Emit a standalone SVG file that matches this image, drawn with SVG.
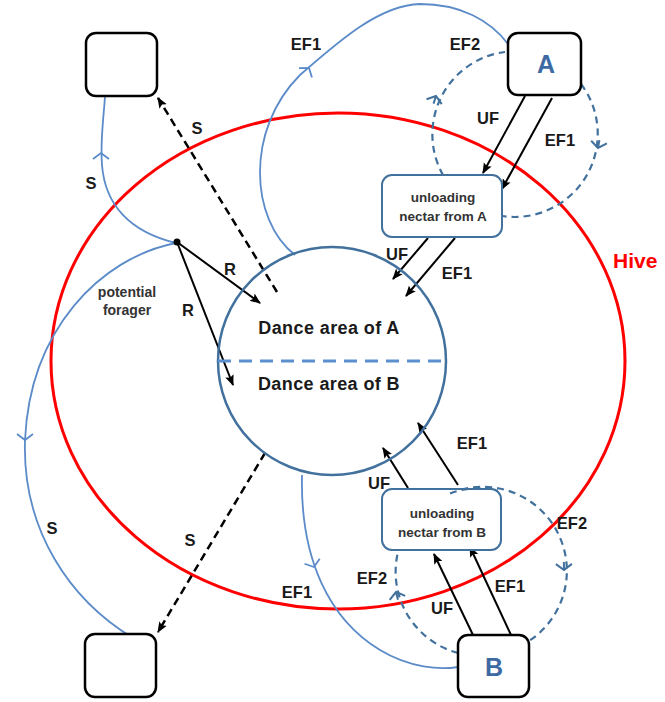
<svg xmlns="http://www.w3.org/2000/svg" width="665" height="702" viewBox="0 0 665 702">
<defs>
<style>
.lbl{font-family:"Liberation Sans",Arial,sans-serif;font-weight:bold;font-size:16.5px;fill:#1a1a1a;text-anchor:middle}
.small{font-family:"Liberation Sans",Arial,sans-serif;font-weight:bold;font-size:13.5px;fill:#333;text-anchor:middle}
.dance{font-family:"Liberation Sans",Arial,sans-serif;font-weight:bold;font-size:18px;letter-spacing:0.4px;fill:#1a1a1a;text-anchor:middle}
.big{font-family:"Liberation Sans",Arial,sans-serif;font-weight:bold;font-size:25px;fill:#3d6aa3;text-anchor:middle}
.blk{fill:#fff;stroke:#000;stroke-width:2.5}
.unl{fill:#fff;stroke:#41719c;stroke-width:2}
.flow{fill:none;stroke:#5b8bc9;stroke-width:1.8}
.dflow{fill:none;stroke:#41719c;stroke-width:2.2;stroke-dasharray:7,5}
.chev{fill:none;stroke:#5b8bc9;stroke-width:1.8}
.dchev{fill:none;stroke:#41719c;stroke-width:2}
.arr{fill:none;stroke:#000;stroke-width:2;marker-end:url(#ah)}
.darr{fill:none;stroke:#000;stroke-width:2.5;stroke-dasharray:8,5;marker-end:url(#ah)}
</style>
<marker id="ah" viewBox="0 0 10 10" refX="9" refY="5" markerWidth="11" markerHeight="11" markerUnits="userSpaceOnUse" orient="auto"><path d="M0,1 L10,5 L0,9 L2,5 z" fill="#000"/></marker>
</defs>

<g id="hive">
<ellipse cx="338" cy="361" rx="287" ry="248" fill="none" stroke="#ff0000" stroke-width="3"/>
<text x="613" y="268" style="font-family:'Liberation Sans',Arial,sans-serif;font-weight:bold;font-size:21px;fill:#ff0000">Hive</text>
</g>

<g id="connectors">
<!-- solid blue flows -->
<path class="flow" d="M295 255 C250 220 245 130 300 75 C340 40 380 5 420 4 C460 4 490 20 508 44"/>
<path class="flow" d="M176 243 C130 232 105 205 102 165 C100 140 104 115 105 96"/>
<path class="flow" d="M176 243 C100 258 30 330 25 440 C22 530 70 600 133 638"/>
<path class="flow" d="M302 475 C300 560 330 620 380 650 C410 668 440 670 458 667"/>
<!-- dashed blue loops -->
<path class="dflow" d="M443 175 A83 83 0 0 1 505 52"/>
<path class="dflow" d="M581 84 A83 83 0 0 1 502 216"/>
<path class="dflow" d="M458 653 A84 84 0 0 1 398 552"/>
<path class="dflow" d="M450 493.5 A84 84 0 0 1 529 641"/>
<!-- chevrons -->
<path class="chev" d="M-6,-8 L0,0 L-6,8" transform="translate(309,68) rotate(-54)"/>
<path class="chev" d="M-6,-8 L0,0 L-6,8" transform="translate(101,153) rotate(-90)"/>
<path class="chev" d="M-6,-8 L0,0 L-6,8" transform="translate(25,440) rotate(90)"/>
<path class="chev" d="M-6,-8 L0,0 L-6,8" transform="translate(314,567) rotate(72)"/>
<path class="dchev" d="M-6,-8 L0,0 L-6,8 M-8,0 L0,0" transform="translate(436,96) rotate(-72)"/>
<path class="dchev" d="M-6,-8 L0,0 L-6,8 M-8,0 L0,0" transform="translate(598,148) rotate(100)"/>
<path class="dchev" d="M-6,-8 L0,0 L-6,8 M-8,0 L0,0" transform="translate(564,570) rotate(89)"/>
<path class="dchev" d="M-6,-8 L0,0 L-6,8 M-8,0 L0,0" transform="translate(396,592) rotate(-104)"/>
<!-- dashed S arrows -->
<path class="darr" d="M277 292 L158 98"/>
<path class="darr" d="M265 453 L158 632"/>
<!-- R arrows -->
<path class="arr" d="M177 242 L260 303"/>
<path class="arr" d="M177 242 L233 385"/>
<!-- A flows -->
<path class="arr" d="M525 96 L483 173"/>
<path class="arr" d="M552 98 L502 189"/>
<path class="arr" d="M428 238 L393 279"/>
<path class="arr" d="M455 238 L406 296"/>
<!-- B flows -->
<path class="arr" d="M408 488 L383 448"/>
<path class="arr" d="M458 485 L418 423"/>
<path class="arr" d="M473 635 L434 554"/>
<path class="arr" d="M511 635 L470 547"/>
</g>

<g id="dance-area">
<circle cx="332" cy="361" r="114" fill="none" stroke="#41719c" stroke-width="2.5"/>
<line x1="218" y1="361" x2="446" y2="361" stroke="#5b8fd0" stroke-width="3" stroke-dasharray="13,8"/>
<text class="dance" x="329" y="334">Dance area of A</text>
<text class="dance" x="329" y="390">Dance area of B</text>
</g>

<g id="forager">
<circle cx="177" cy="242" r="3.5" fill="#000"/>
<text class="small" x="127" y="297" style="font-size:14px">potential</text>
<text class="small" x="127" y="315" style="font-size:14px">forager</text>
</g>

<g id="box-top-left"><rect class="blk" x="86" y="33" width="71" height="63" rx="10"/></g>
<g id="box-bottom-left"><rect class="blk" x="85" y="634" width="71" height="63" rx="10"/></g>
<g id="box-A"><rect class="blk" x="508" y="33" width="73" height="62" rx="10"/><text class="big" x="546" y="73">A</text></g>
<g id="box-B"><rect class="blk" x="458" y="635" width="71" height="62" rx="10"/><text class="big" x="494" y="676">B</text></g>
<g id="unload-A"><rect class="unl" x="382" y="175" width="120" height="62" rx="10"/><text class="small" x="443" y="202">unloading</text><text class="small" x="443" y="221">nectar from A</text></g>
<g id="unload-B"><rect class="unl" x="382" y="489" width="119" height="61" rx="10"/><text class="small" x="442" y="518">unloading</text><text class="small" x="442" y="537">nectar from B</text></g>
<path class="dflow" d="M450 493.5 A84 84 0 0 1 498 490"/>

<g id="labels">
<text class="lbl" x="91" y="189">S</text>
<text class="lbl" x="197" y="134">S</text>
<text class="lbl" x="306" y="50">EF1</text>
<text class="lbl" x="465" y="50">EF2</text>
<text class="lbl" x="488" y="124">UF</text>
<text class="lbl" x="560" y="146">EF1</text>
<text class="lbl" x="397" y="260">UF</text>
<text class="lbl" x="457" y="279">EF1</text>
<text class="lbl" x="230" y="275">R</text>
<text class="lbl" x="188" y="316">R</text>
<text class="lbl" x="472" y="449">EF1</text>
<text class="lbl" x="379" y="489">UF</text>
<text class="lbl" x="572" y="529">EF2</text>
<text class="lbl" x="372" y="584">EF2</text>
<text class="lbl" x="510" y="592">EF1</text>
<text class="lbl" x="442" y="614">UF</text>
<text class="lbl" x="297" y="598">EF1</text>
<text class="lbl" x="190" y="546">S</text>
<text class="lbl" x="52" y="534">S</text>
</g>
</svg>
